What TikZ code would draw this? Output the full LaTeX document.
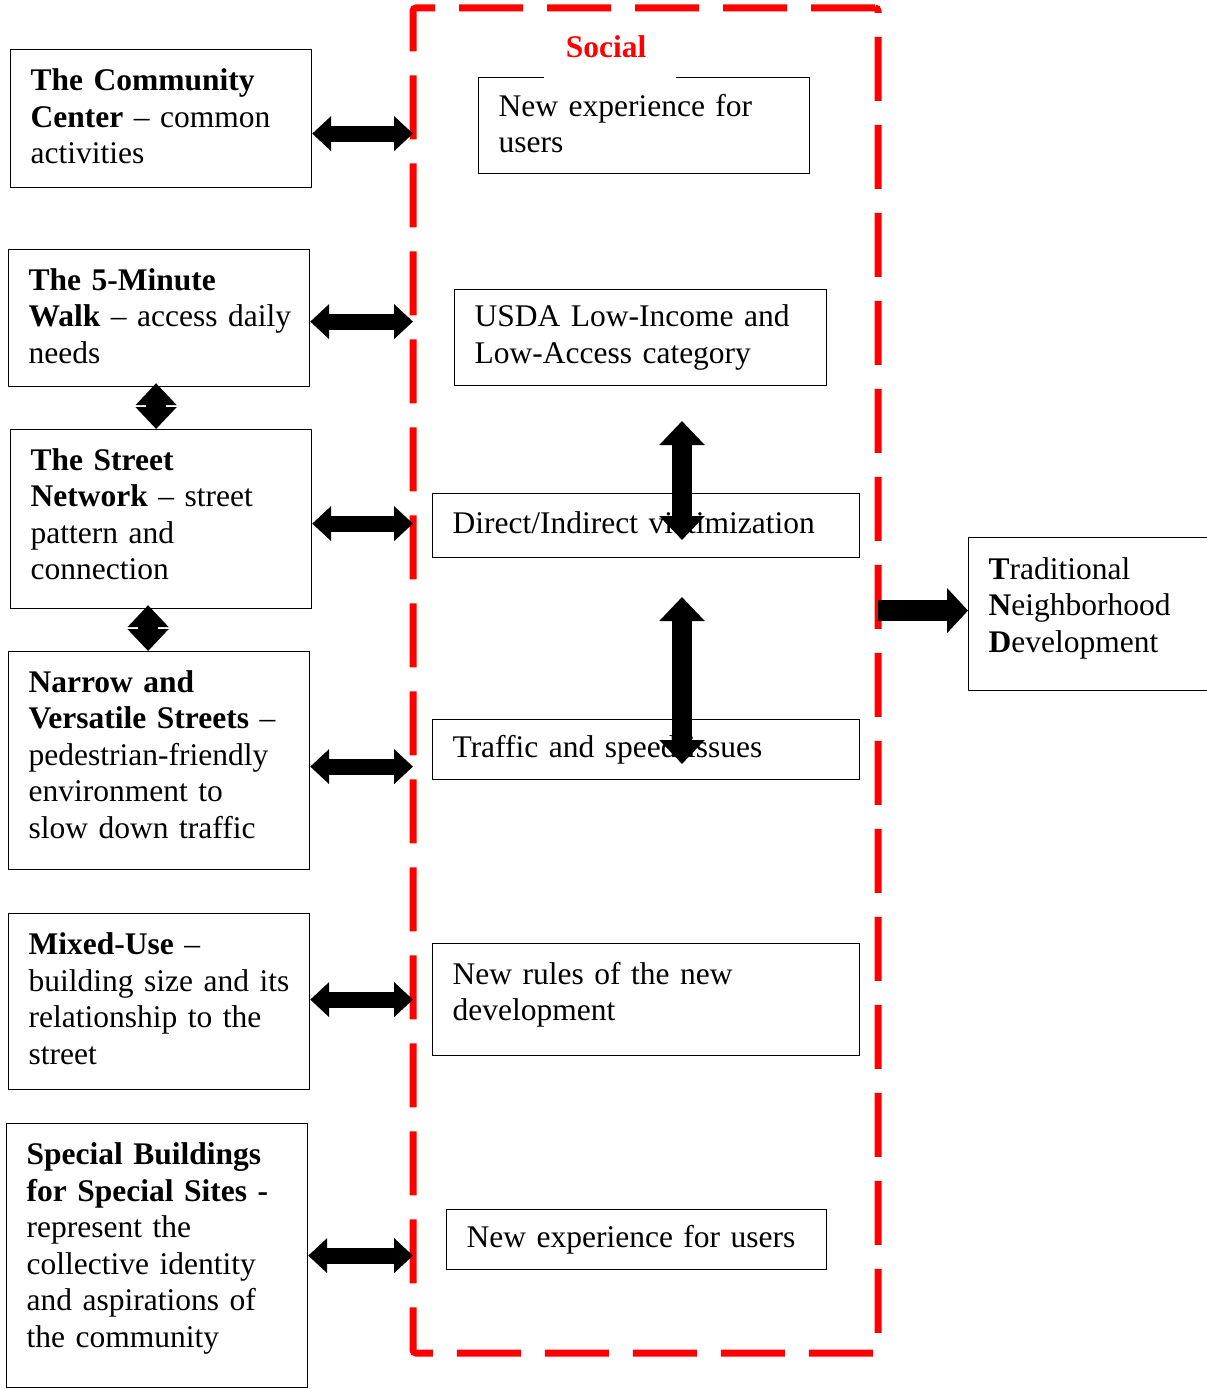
\documentclass[tikz,border=0pt]{standalone}
\usepackage{fontspec}
\setmainfont{Liberation Serif}
\usetikzlibrary{positioning,arrows.meta}

\begin{document}
\begin{tikzpicture}[x=1pt,y=-1pt,
    font=\fontsize{31.5}{36.5}\selectfont,
    box/.style={draw, line width=1.2pt, anchor=north west, align=left,
      inner xsep=20pt, inner ysep=0pt},
    lift/.style={execute at end node={\endgraf\vspace*{#1}}},
    dbl/.style={line width=16pt,
      {Triangle[length=19pt,width=34pt]}-{Triangle[length=19pt,width=34pt]}},
    vdbl/.style={line width=20pt,
      {Triangle[length=22pt,width=40pt]}-{Triangle[length=22pt,width=40pt]}},
    bigdbl/.style={line width=20pt,
      {Triangle[length=24pt,width=44pt]}-{Triangle[length=24pt,width=44pt]}},
    single/.style={line width=21pt, -{Triangle[length=21pt,width=44pt]}}]

  \useasboundingbox (0,0) rectangle (1207,1389);

  \node[draw=red, line width=7pt, dash pattern=on 64pt off 24pt,
    rounded corners=3pt, outer sep=0pt, inner sep=0pt,
    minimum width=465pt, minimum height=1345pt, anchor=north west]
    (social) at (413,8) {};

  \node[box, lift=4pt, text width=261pt, minimum height=138pt] (center) at (10,49)
    {\textbf{The Community}\\\textbf{Center} -- common\\activities};
  \node[box, lift=4pt, text width=261pt, minimum height=137pt] (walk) at (8,249)
    {\textbf{The 5-Minute}\\\mbox{\textbf{Walk} -- access daily}\\needs};
  \node[box, lift=10pt, text width=261pt, minimum height=179pt] (street) at (10,429)
    {\textbf{The Street}\\\textbf{Network} -- street\\pattern and\\connection};
  \node[box, lift=12pt, text width=261pt, minimum height=218pt] (narrow) at (8,651)
    {\textbf{Narrow and}\\\textbf{Versatile Streets} --\\pedestrian-friendly\\
     environment to\\slow down traffic};
  \node[box, lift=6pt, text width=261pt, minimum height=176pt] (mixed) at (8,913)
    {\textbf{Mixed-Use} --\\building size and its\\relationship to the\\street};
  \node[box, lift=14pt, text width=261pt, minimum height=264pt] (special) at (6,1123)
    {\textbf{Special Buildings}\\\textbf{for Special Sites -}\\represent the\\
     collective identity\\and aspirations of\\the community};

  \node[box, lift=4pt, text width=291pt, minimum height=96pt] (newexp) at (478,77)
    {New experience for\\users};
  \node[box, text width=332pt, minimum height=96pt] (usda) at (454,289)
    {USDA Low-Income and\\Low-Access category};
  \node[box, lift=6pt, text width=387pt, minimum height=64pt] (victim) at (432,493)
    {Direct/Indirect victimization};
  \node[box, text width=387pt, minimum height=60pt] (traffic) at (432,719)
    {Traffic and speed issues};
  \node[box, lift=10pt, text width=387pt, minimum height=112pt] (rules) at (432,943)
    {New rules of the new\\development};
  \node[box, text width=340pt, minimum height=60pt] (newexpb) at (446,1209)
    {New experience for users};

  \node[box, lift=12pt, text width=205pt, minimum height=153pt] (tnd) at (968,537)
    {\textbf{T}raditional\\\textbf{N}eighborhood\\\textbf{D}evelopment};

  \node[fill=white, text=red, font=\fontsize{31.5}{36.5}\selectfont\bfseries,
    inner xsep=30pt, inner ysep=2pt, text depth=20pt, anchor=base]
    (social label) at (610,58) {\hspace*{-8pt}Social};

  \draw[dbl] ([yshift=-15pt]center.east) -- ([yshift=-15pt]center.east -| social.west);
  \draw[dbl] ([yshift=-3.5pt]walk.east) -- ([yshift=-3.5pt]walk.east -| social.west);
  \draw[dbl] ([yshift=-4.5pt]street.east) -- ([yshift=-4.5pt]street.east -| social.west);
  \draw[dbl] ([yshift=-6pt]narrow.east) -- ([yshift=-6pt]narrow.east -| social.west);
  \draw[dbl] ([yshift=2pt]mixed.east) -- ([yshift=2pt]mixed.east -| social.west);
  \draw[dbl] (special.east) -- (special.east -| social.west);

  \draw[vdbl] ([xshift=-3pt,yshift=4pt]walk.south) -- ([xshift=-3pt]walk.south |- street.north);
  \draw[vdbl] ([xshift=-13pt,yshift=4pt]street.south) -- ([xshift=-13pt]street.south |- narrow.north);

  \coordinate (up top) at (682,421);
  \coordinate (up bottom) at (682,540);
  \coordinate (down top) at (682,597);
  \coordinate (down bottom) at (682,764);
  \draw[bigdbl] (up top) -- (up bottom);
  \draw[bigdbl] (down top) -- (down bottom);

  \draw[single] ([yshift=3.5pt]social.east |- tnd.west) -- ([yshift=3.5pt]tnd.west);
\end{tikzpicture}
\end{document}
